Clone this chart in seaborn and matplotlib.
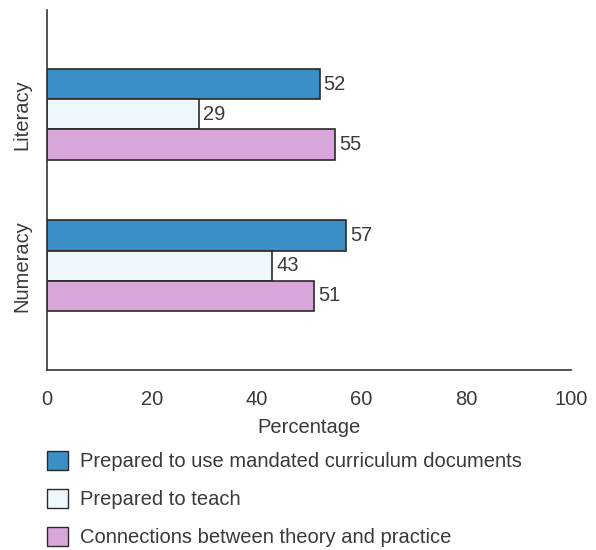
import pandas as pd
import seaborn as sns
import matplotlib.pyplot as plt
from matplotlib.patches import Patch

# Data
areas = ["Literacy", "Numeracy"]
series = ["Prepared to use mandated curriculum documents",
          "Prepared to teach",
          "Connections between theory and practice"]
mandated = [52, 57]
teach = [29, 43]
connections = [55, 51]
xticks = [0, 20, 40, 60, 80, 100]

colors = ["#3a8fc6", "#eef7fb", "#d8a6da"]
edge = "#2a2a2a"

df = pd.DataFrame({
    "area": areas * 3,
    "series": [series[0]] * 2 + [series[1]] * 2 + [series[2]] * 2,
    "value": mandated + teach + connections,
})

sns.set_style("white")
plt.rcParams['font.family'] = ['Liberation Sans', 'DejaVu Sans']
fs = 14.5
txt = "#3a3a3a"

fig = plt.figure(figsize=(5.96, 5.5), dpi=100)
ax = fig.add_axes([0.079, 0.327, 0.879, 0.655])

sns.barplot(data=df, y="area", x="value", hue="series", hue_order=series,
            palette=colors, saturation=1, orient="h", width=0.6,
            edgecolor=edge, linewidth=1.2, legend=False, ax=ax)

for c in ax.containers:
    ax.bar_label(c, fmt="%d", padding=3, fontsize=fs, color=txt)

ax.set_xlim(0, 100)
ax.set_ylim(1.69, -0.69)
ax.set_xticks(xticks)
ax.set_xticklabels([str(t) for t in xticks], fontsize=fs, color=txt)
ax.tick_params(axis="x", length=0, pad=14)
ax.tick_params(axis="y", length=0, pad=11)
for lab in ax.get_yticklabels():
    lab.set_rotation(90)
    lab.set_va("center")
    lab.set_fontsize(fs)
    lab.set_color(txt)
ax.set_ylabel("")
ax.set_xlabel("Percentage", fontsize=fs, color=txt, labelpad=7)

sns.despine(ax=ax)
for s in ["left", "bottom"]:
    ax.spines[s].set_color("#333333")
    ax.spines[s].set_linewidth(1.2)

handles = [Patch(facecolor=c, edgecolor=edge, linewidth=1.0) for c in colors]
fig.legend(handles, series, loc="upper left", bbox_to_anchor=(0.079, 0.180),
           frameon=False, fontsize=fs, labelcolor=txt,
           handlelength=1.05, handleheight=1.05, handletextpad=0.6,
           labelspacing=0.88, borderaxespad=0, borderpad=0)

fig.savefig("out.png", dpi=100)
